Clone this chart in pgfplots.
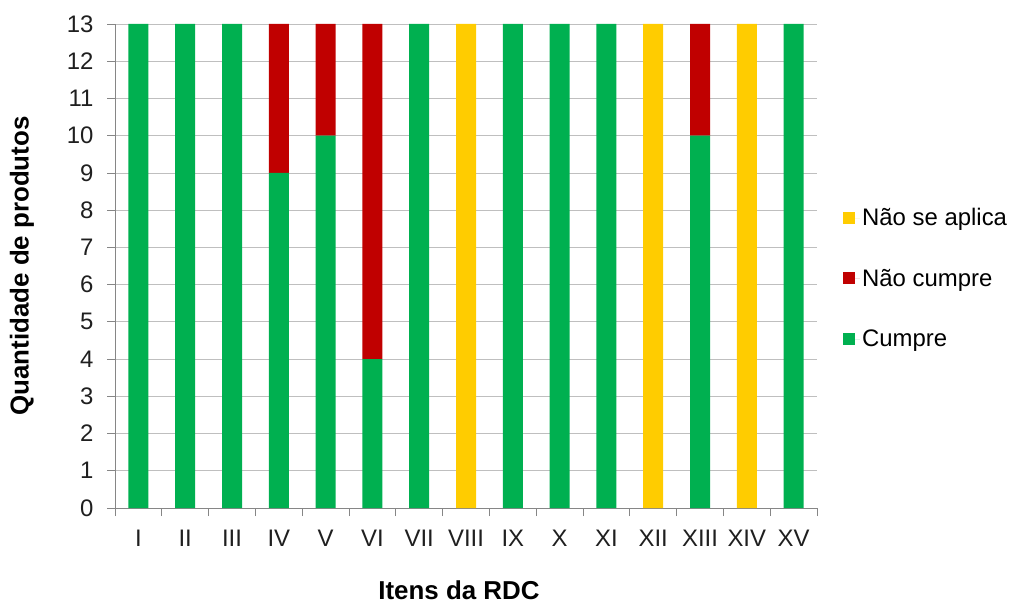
\documentclass[border=0pt]{standalone}
\usepackage{pgfplots}
\pgfplotsset{compat=1.18}
\usepackage{fontspec}
\setmainfont{Liberation Sans}
\definecolor{cgreen}{HTML}{00B050}
\definecolor{cred}{HTML}{C00000}
\definecolor{cyellow}{HTML}{FFCC00}
\definecolor{gridc}{HTML}{BFBFBF}
\definecolor{axc}{HTML}{868686}
\begin{document}
\begin{tikzpicture}
\useasboundingbox (-115bp,-95bp) rectangle (911bp,508bp);
\begin{axis}[
  scale only axis,
  width=702bp, height=484bp,
  at={(0,0)}, anchor=south west,
  ybar stacked,
  bar width=20bp,
  xmin=0.5, xmax=15.5,
  ymin=0, ymax=13,
  xtick={1,...,15},
  xticklabels={I,II,III,IV,V,VI,VII,VIII,IX,X,XI,XII,XIII,XIV,XV},
  major x tick style={draw=none},
  minor xtick={0.5,1.5,...,15.5},
  minor x tick style={draw=axc, line width=0.8pt},
  minor tick length=8bp,
  ytick={0,1,...,13},
  major tick length=8bp,
  tick align=outside,
  y tick style={draw=axc, line width=0.8pt},
  ymajorgrids,
  grid style={draw=gridc, line width=0.8pt},
  axis x line*=bottom,
  axis y line*=left,
  axis line style={draw=axc, line width=0.8pt, -},
  /pgf/number format/assume math mode=true,
  tick label style={font=\fontsize{24}{28}\selectfont, text=black!88},
  yticklabel style={xshift=-10bp},
  xticklabel style={yshift=-11bp},
  xlabel={\textbf{Itens da RDC}},
  ylabel={\textbf{Quantidade de produtos}},
  label style={font=\fontsize{26}{30}\selectfont},
  xlabel style={at={(axis description cs:0.49,-0.169)}, anchor=center},
  ylabel style={at={(axis description cs:-0.1325,0.5)}, anchor=center},
  legend style={draw=none, fill=none, at={(1.037,0.475)}, anchor=west,
    font=\fontsize{24}{28}\selectfont, row sep=38bp,
    legend cell align=left, inner sep=0pt},
  legend image code/.code={\fill[#1] (0bp,-6bp) rectangle (12bp,6bp); \path (0bp,0bp) rectangle (17bp,0bp);},
  reverse legend,
  clip=false,
]
\addplot[fill=cgreen, draw=none] coordinates {(1,13) (2,13) (3,13) (4,9) (5,10) (6,4) (7,13) (8,0) (9,13) (10,13) (11,13) (12,0) (13,10) (14,0) (15,13)};
\addplot[fill=cred, draw=none] coordinates {(1,0) (2,0) (3,0) (4,4) (5,3) (6,9) (7,0) (8,0) (9,0) (10,0) (11,0) (12,0) (13,3) (14,0) (15,0)};
\addplot[fill=cyellow, draw=none] coordinates {(1,0) (2,0) (3,0) (4,0) (5,0) (6,0) (7,0) (8,13) (9,0) (10,0) (11,0) (12,13) (13,0) (14,13) (15,0)};
\legend{Cumpre, Não cumpre, Não se aplica}
\end{axis}
\end{tikzpicture}
\end{document}
